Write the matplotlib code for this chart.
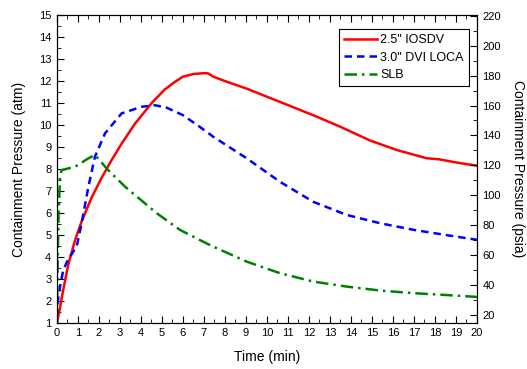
import matplotlib
matplotlib.use("Agg")
import matplotlib.pyplot as plt
from matplotlib.ticker import MultipleLocator

plt.rcParams['font.family'] = ['Liberation Sans', 'DejaVu Sans']

# 2.5" IOSDV
t_iosdv = [0, 0.14, 0.3, 0.54, 0.86, 1.17, 1.65, 2.13, 2.6, 3.08, 3.71, 4.51, 5.14, 5.6,
           6.0, 6.5, 7.0, 7.2, 7.45, 8.0, 9.0, 10.6, 12.2, 13.5, 14.9, 16.2, 17.6, 18.2, 19.0, 20]
p_iosdv = [1.0, 1.65, 2.5, 3.65, 4.75, 5.6, 6.7, 7.6, 8.4, 9.15, 10.05, 11.0, 11.62, 11.95,
           12.2, 12.32, 12.36, 12.35, 12.2, 12.0, 11.67, 11.06, 10.45, 9.92, 9.3, 8.86, 8.49, 8.44, 8.3, 8.15]

# 3.0" DVI LOCA
t_dvi = [0, 0.06, 0.14, 0.3, 0.54, 0.94, 1.17, 1.49, 1.81, 2.29, 3.08, 4.03, 4.67, 5.2,
         6.0, 6.8, 7.44, 9.03, 10.62, 12.2, 13.8, 15.4, 17.0, 18.5, 20]
p_dvi = [1.3, 2.1, 2.6, 3.4, 3.9, 4.47, 5.5, 7.15, 8.56, 9.62, 10.53, 10.83, 10.9, 10.8,
         10.45, 9.92, 9.47, 8.49, 7.42, 6.51, 5.91, 5.53, 5.23, 5.0, 4.78]

# SLB
t_slb = [0, 0.03, 0.08, 0.15, 0.22, 0.86, 1.49, 1.81, 2.44, 3.24, 4.75, 5.86, 6.8, 7.44,
         9.03, 10.62, 12.2, 13.8, 15.4, 17.0, 18.5, 20]
p_slb = [1.0, 3.5, 6.0, 7.6, 7.95, 8.1, 8.48, 8.64, 7.95, 7.2, 5.99, 5.23, 4.77, 4.47,
         3.79, 3.26, 2.88, 2.65, 2.47, 2.35, 2.27, 2.18]

ATM_TO_PSI = 14.696

fig = plt.figure(figsize=(5.27, 3.69), dpi=100)
ax = fig.add_axes([0.108, 0.125, 0.797, 0.834])

ax.plot(t_iosdv, p_iosdv, color='#ff0000', lw=1.8, label='2.5" IOSDV')
ax.plot(t_dvi, p_dvi, color='#0000ff', lw=1.8, ls=(0, (3, 2)), label='3.0" DVI LOCA')
ax.plot(t_slb, p_slb, color='#008000', lw=1.8, ls=(0, (5, 2, 1, 2)), label='SLB')

ax.set_xlim(0, 20)
ax.set_ylim(1, 15)
ax.xaxis.set_major_locator(MultipleLocator(1))
ax.xaxis.set_minor_locator(MultipleLocator(0.5))
ax.yaxis.set_major_locator(MultipleLocator(1))
ax.yaxis.set_minor_locator(MultipleLocator(0.5))
ax.tick_params(which='both', direction='in', top=True, labelsize=8, pad=4)
ax.tick_params(which='major', length=5)
ax.tick_params(which='minor', length=3)
ax.set_xlabel('Time (min)', fontsize=10, labelpad=8)
ax.set_ylabel('Containment Pressure (atm)', fontsize=10, labelpad=9)

ax2 = ax.twinx()
ax2.set_ylim(1 * ATM_TO_PSI, 15 * ATM_TO_PSI)
ax2.yaxis.set_major_locator(MultipleLocator(20))
ax2.yaxis.set_minor_locator(MultipleLocator(10))
ax2.tick_params(which='both', direction='in', labelsize=8, pad=4)
ax2.tick_params(which='major', length=5)
ax2.tick_params(which='minor', length=3)
ax2.set_ylabel('Containment Pressure (psia)', fontsize=10, rotation=270, labelpad=17)

leg = ax.legend(loc='upper right', bbox_to_anchor=(0.981, 0.955), borderaxespad=0,
                fontsize=9, fancybox=False, edgecolor='black', framealpha=1,
                handlelength=2.6, handletextpad=0.3, labelspacing=0.45)
leg.get_frame().set_linewidth(0.8)

fig.savefig('out.png', dpi=100)
